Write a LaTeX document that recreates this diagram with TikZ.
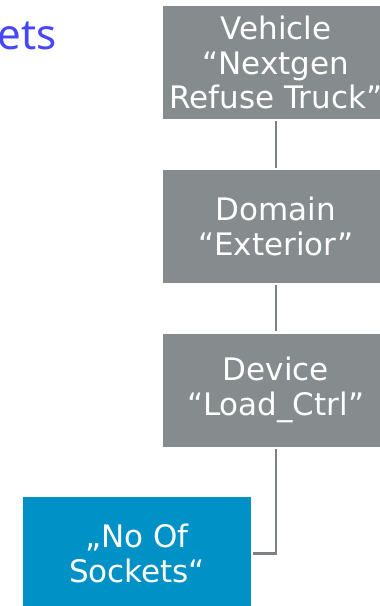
\documentclass[tikz,border=0pt]{standalone}
\usepackage{fontspec}
\setmainfont{DejaVu Sans}
\newfontfamily\titlefont{Noto Sans}
\definecolor{boxgray}{HTML}{868B8E}
\definecolor{boxblue}{HTML}{0091C6}
\definecolor{linegray}{HTML}{7E8184}
\definecolor{titleblue}{HTML}{4646FA}
\begin{document}
\begin{tikzpicture}[x=1pt,y=1pt,
  graybox/.style={fill=boxgray, text=white, minimum width=226pt, minimum height=113pt,
    inner sep=0pt, align=center, font=\fontsize{31}{34.5}\selectfont},
  bluebox/.style={graybox, fill=boxblue},
  conn/.style={draw=linegray, line width=2.5pt}]
\useasboundingbox (0,0) rectangle (380,-606);
\clip (0,0) rectangle (380,-606);
\node[anchor=base east, text=titleblue, font=\titlefont\fontsize{42}{46}\selectfont, inner sep=0pt] (title) at (57,-49) {ets};
\node[graybox] (veh) at (276,-62.5) {Vehicle\\“Nextgen\\Refuse Truck”};
\node[graybox] (dom) at (276,-226.5) {Domain\\“Exterior”};
\node[graybox] (dev) at (276,-390) {Device\\“Load\_Ctrl”};
\node[bluebox, minimum width=228pt] (nos) at (137,-553.5) {„No Of\\Sockets“};
\draw[conn, shorten <=1.5pt, shorten >=2pt] (veh.south) -- (dom.north);
\draw[conn, shorten <=2pt, shorten >=2pt] (dom.south) -- (dev.north);
\draw[conn, shorten <=2pt, shorten >=2pt] (dev.south) |- (nos.east);
\end{tikzpicture}
\end{document}
